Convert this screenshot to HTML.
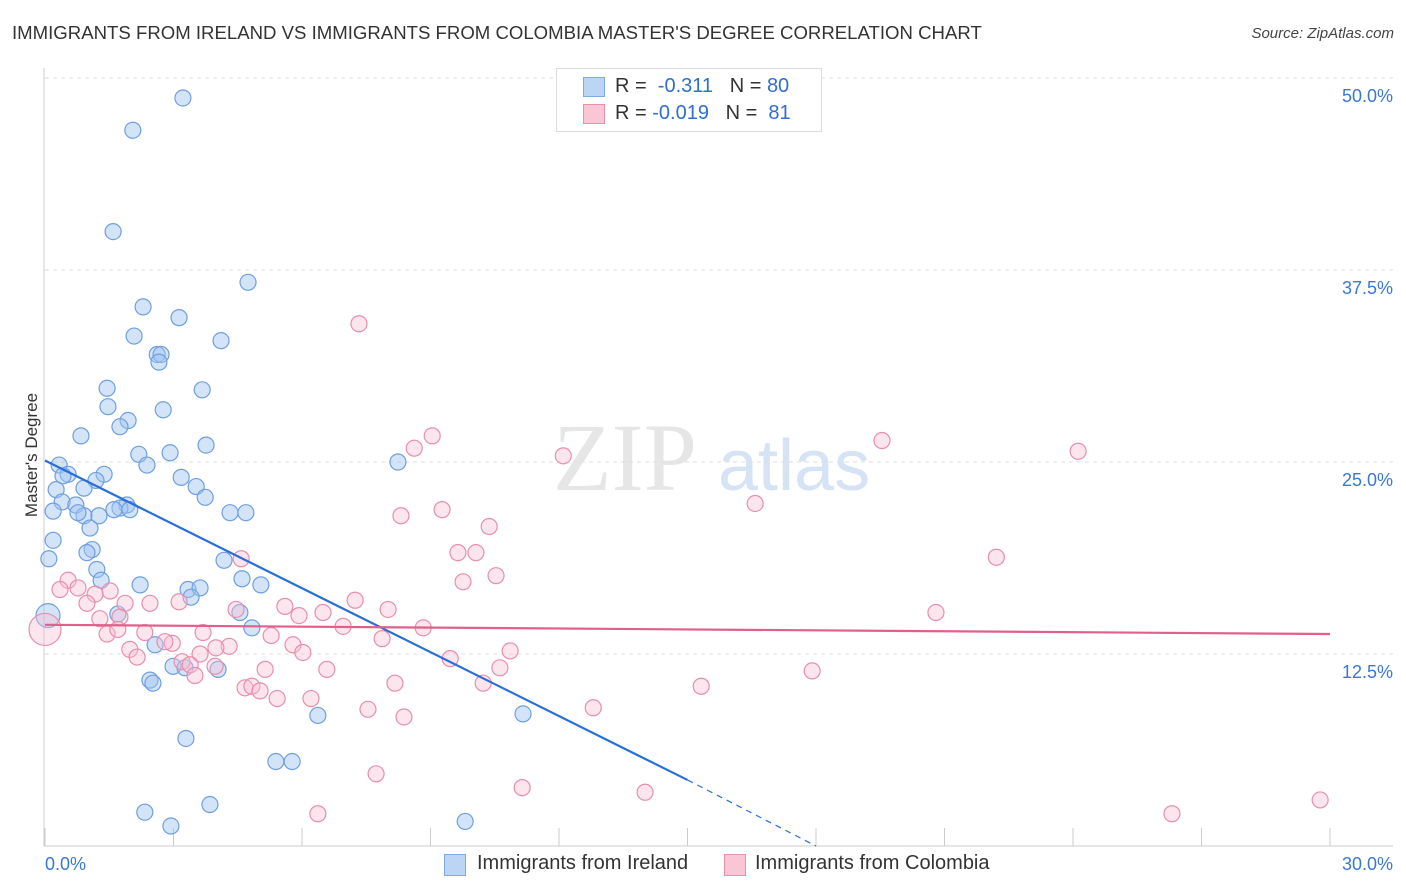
<!DOCTYPE html>
<html><head><meta charset="utf-8"><style>
body{margin:0;background:#fff;font-family:"Liberation Sans",sans-serif;}
#wrap{position:relative;width:1406px;height:892px;overflow:hidden;}
.t{position:absolute;white-space:nowrap;}
</style></head><body>
<div id="wrap">
<div class="t" style="left:12px;top:22px;font-size:18.6px;color:#333;">IMMIGRANTS FROM IRELAND VS IMMIGRANTS FROM COLOMBIA MASTER'S DEGREE CORRELATION CHART</div>
<div class="t" style="right:12px;top:25px;font-size:15px;color:#444;font-style:italic;">Source: ZipAtlas.com</div>
<div class="t" style="left:-30px;top:445px;font-size:17px;color:#333;transform:rotate(-90deg);">Master's Degree</div>
<svg id="svg" width="1406" height="892" style="position:absolute;left:0;top:0"></svg>
<div style="position:absolute;left:556px;top:68px;width:264px;height:62px;border:1px solid #ddd;background:#fff;font-size:20px;">
 <div style="position:absolute;left:26px;top:8px;width:20px;height:18px;background:#bcd5f5;border:1px solid #7ea9e6"></div>
 <div class="t" style="left:58px;top:6px;color:#333">R = <span style="color:#2f6fd0">&nbsp;-0.311</span>&nbsp;&nbsp;&nbsp;N = <span style="color:#2f6fd0">80</span></div>
 <div style="position:absolute;left:26px;top:35px;width:20px;height:18px;background:#f8c6d4;border:1px solid #e88fab"></div>
 <div class="t" style="left:58px;top:33px;color:#333">R = <span style="color:#2f6fd0">-0.019</span>&nbsp;&nbsp;&nbsp;N = <span style="color:#2f6fd0">&nbsp;81</span></div>
</div>
<div style="position:absolute;left:444px;top:852px;font-size:20px;color:#333;">
 <div style="position:absolute;left:0;top:2px;width:20px;height:20px;background:#bcd5f5;border:1px solid #7ea9e6"></div>
 <div class="t" style="left:33px;top:0px">Immigrants from Ireland</div>
 <div style="position:absolute;left:280px;top:2px;width:20px;height:20px;background:#f8c6d4;border:1px solid #e88fab"></div>
 <div class="t" style="left:311px;top:0px">Immigrants from Colombia</div>
</div>
</div>
<script>
const blueX=[3.22,2.05,1.59,4.74,2.29,3.13,2.08,4.11,2.62,2.71,2.66,1.45,3.67,1.47,2.76,1.94,1.75,0.84,3.76,2.19,2.92,2.38,0.33,0.54,0.42,1.38,3.18,1.19,0.26,0.91,3.53,3.74,0.40,0.72,1.91,1.75,1.98,1.61,0.19,0.91,0.77,1.26,4.32,4.69,1.05,0.19,1.10,0.98,0.09,4.18,1.21,1.31,4.60,2.22,5.04,3.34,3.62,3.41,1.70,4.55,4.83,2.57,2.99,3.27,4.04,2.45,2.52,8.24,6.37,11.16,3.29,5.39,5.77,3.85,2.33,2.94,9.81,0.07];
const blueY=[48.7,46.6,40.0,36.7,35.1,34.4,33.2,32.9,32.0,32.0,31.5,29.8,29.7,28.6,28.4,27.7,27.3,26.7,26.1,25.5,25.6,24.8,24.8,24.2,24.1,24.2,24.0,23.8,23.2,23.3,23.4,22.7,22.4,22.2,22.2,22.0,21.9,21.9,21.8,21.5,21.7,21.5,21.7,21.7,20.7,19.9,19.3,19.1,18.7,18.6,18.0,17.3,17.4,17.0,17.0,16.7,16.8,16.2,15.1,15.2,14.2,13.1,11.7,11.6,11.5,10.8,10.6,25.0,8.5,8.6,7.0,5.5,5.5,2.7,2.2,1.3,1.6,15.0];
const pinkX=[7.33,9.04,8.62,12.10,19.54,24.12,16.58,9.27,8.31,10.37,9.64,10.06,4.58,22.21,9.76,10.53,0.54,0.35,0.77,1.17,1.52,0.98,1.87,2.45,3.13,4.46,5.60,5.93,6.49,7.24,8.01,20.80,1.28,1.75,2.33,1.45,1.70,2.97,2.80,3.69,4.30,3.99,5.79,6.02,6.96,7.87,8.83,10.86,1.98,2.15,3.62,9.46,3.20,3.39,5.14,6.58,10.62,3.97,3.50,10.23,8.17,4.67,4.83,5.02,5.42,6.21,15.32,17.91,7.54,8.38,12.80,7.73,11.14,14.01,6.37,26.31,29.77,0,5.28];
const pinkY=[34.0,26.7,25.9,25.4,26.4,25.7,22.3,21.9,21.5,20.8,19.1,19.1,18.7,18.8,17.2,17.6,17.3,16.7,16.8,16.4,16.6,15.8,15.8,15.8,15.9,15.4,15.6,15.0,15.2,16.0,15.4,15.2,14.8,14.9,13.9,13.8,14.1,13.2,13.3,13.9,13.0,12.9,13.1,12.6,14.3,13.5,14.2,12.7,12.8,12.3,12.5,12.2,12.0,11.8,11.5,11.5,11.6,11.7,11.1,10.6,10.6,10.3,10.4,10.1,9.6,9.6,10.4,11.4,8.9,8.4,9.0,4.7,3.8,3.5,2.1,2.1,3.0,14.1,13.7];
const blueTrendX=[0,15,18];
const blueTrendY=[25.1,4.3,0];
const pinkTrendX=[0,30];
const pinkTrendY=[14.4,13.8];
const yTicks=[12.5,25.0,37.5,50.0];
const yTickLabels=["12.5%","25.0%","37.5%","50.0%"];
const xTicks=[0,3,6,9,12,15,18,21,24,27,30];

const sx=v=>45+v/30*1285, sy=v=>846-v/50*768;
const svg=document.getElementById('svg'),NS='http://www.w3.org/2000/svg';
function mk(tag,attrs,name){const e=document.createElementNS(NS,tag);for(const k in attrs)e.setAttribute(k,attrs[k]);


svg.appendChild(e);return e;}
let w=mk('text',{x:553,y:490,'font-size':96,fill:'#e6e6e6','font-family':'Liberation Serif',}, 'watermark-zip');w.textContent='ZIP';
w=mk('text',{x:718,y:490,'font-size':72,fill:'#d5e3f5','font-family':'Liberation Sans'},'watermark-atlas');w.textContent='atlas';
yTicks.forEach((t,i)=>{mk('line',{x1:45,x2:1393,y1:sy(t),y2:sy(t),stroke:'#ddd','stroke-dasharray':'4,4'},'y-gridline');
const tx=mk('text',{x:1393,y:sy(t)+24,'text-anchor':'end','font-size':18,fill:'#3a78d4'},'y-tick-label');tx.textContent=yTickLabels[i];});
mk('line',{x1:45,x2:1393,y1:78,y2:78,stroke:'#ddd','stroke-dasharray':'4,4'},'top-gridline');
mk('line',{x1:44,x2:44,y1:68,y2:846,stroke:'#ccc'},'y-axis');
mk('line',{x1:44,x2:1393,y1:846,y2:846,stroke:'#ccc'},'x-axis');
xTicks.forEach(t=>mk('line',{x1:sx(t),x2:sx(t),y1:828,y2:846,stroke:'#ccc'},'x-tick'));
let l=mk('text',{x:45,y:870,'font-size':18,fill:'#3a78d4'},'x-tick-label-min');l.textContent='0.0%';
l=mk('text',{x:1393,y:870,'font-size':18,fill:'#3a78d4','text-anchor':'end'},'x-tick-label-max');l.textContent='30.0%';
blueX.forEach((x,i)=>mk('circle',{cx:sx(x),cy:sy(blueY[i]),r:i==blueX.length-1?12:8,fill:'rgba(160,195,240,0.45)',stroke:'#6f9fe0','stroke-width':1.2},'ireland-point'));
pinkX.forEach((x,i)=>mk('circle',{cx:sx(x),cy:sy(pinkY[i]),r:i==pinkX.length-2?16:8,fill:'rgba(248,190,210,0.4)',stroke:'#e88fab','stroke-width':1.2},'colombia-point'));
mk('line',{x1:sx(blueTrendX[0]),y1:sy(blueTrendY[0]),x2:sx(blueTrendX[1]),y2:sy(blueTrendY[1]),stroke:'#2a6fd8','stroke-width':2.2},'ireland-trend-line');
mk('line',{x1:sx(blueTrendX[1]),y1:sy(blueTrendY[1]),x2:sx(blueTrendX[2]),y2:sy(blueTrendY[2]),stroke:'#2a6fd8','stroke-width':1.2,'stroke-dasharray':'6,5'},'ireland-trend-extension');
mk('line',{x1:sx(pinkTrendX[0]),y1:sy(pinkTrendY[0]),x2:sx(pinkTrendX[1]),y2:sy(pinkTrendY[1]),stroke:'#e0608a','stroke-width':2.2},'colombia-trend-line');
</script>
</body></html>
